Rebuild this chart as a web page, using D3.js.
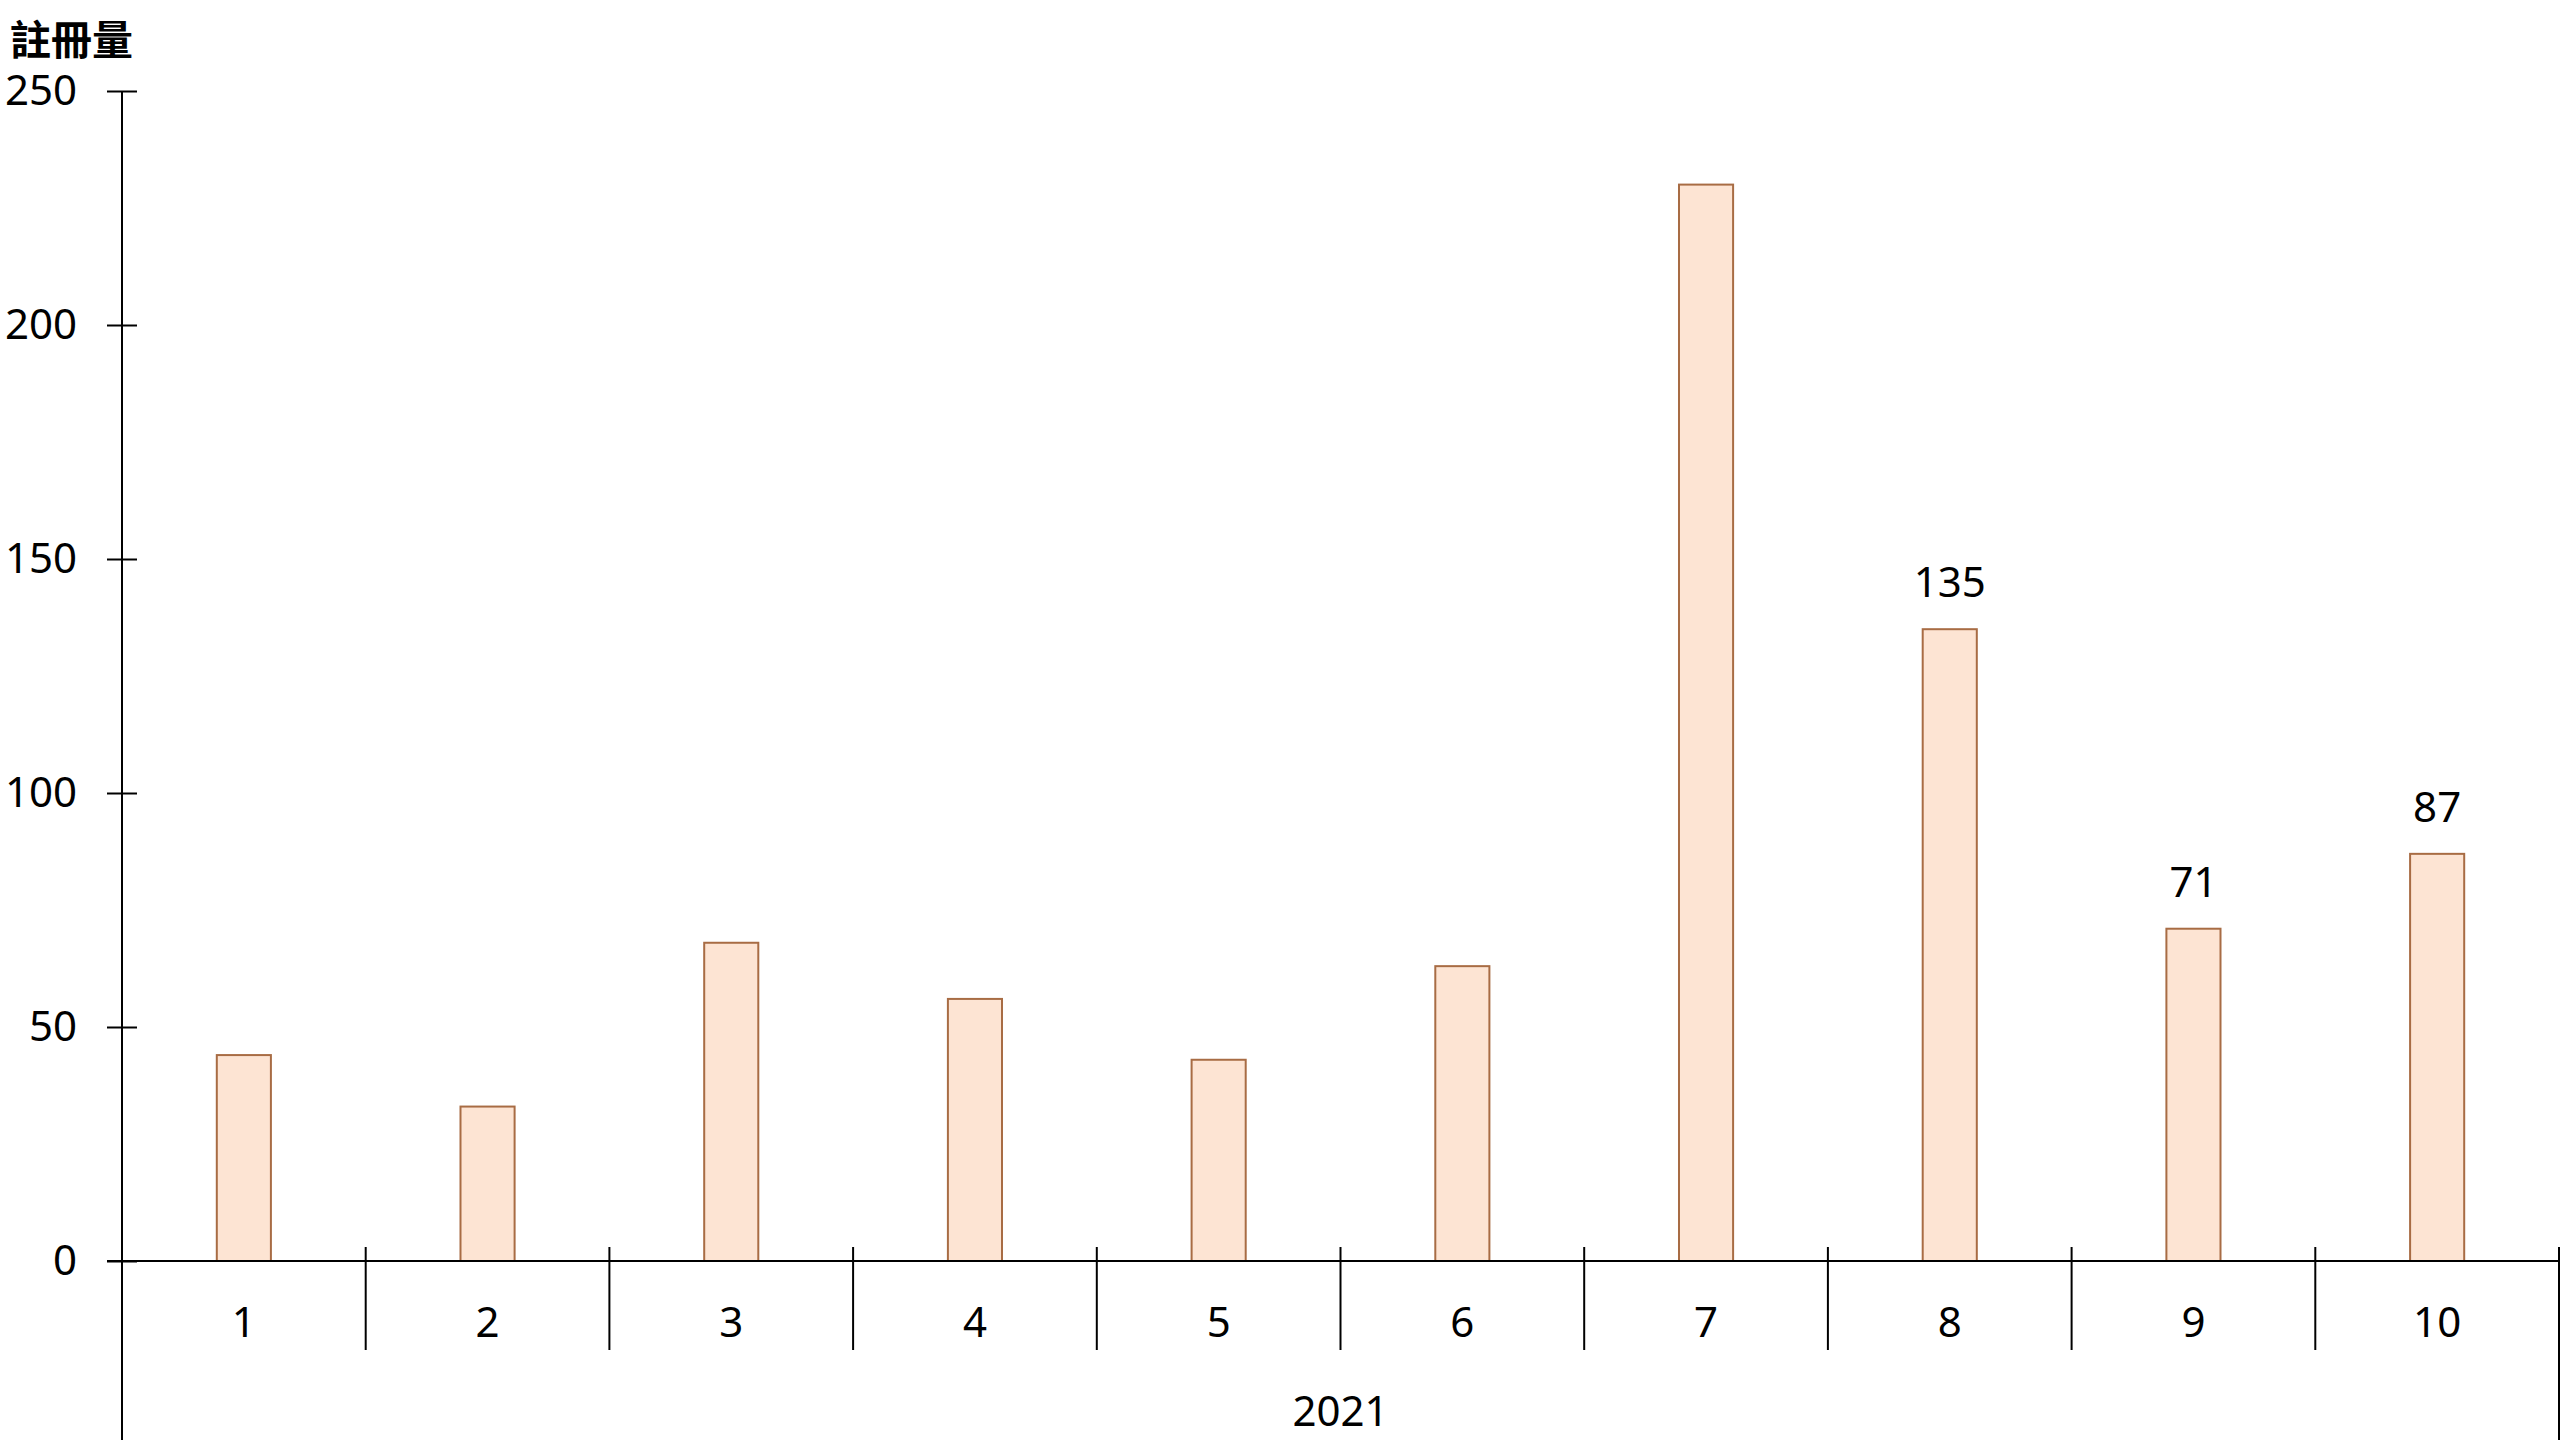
<!DOCTYPE html>
<html>
<head>
<meta charset="utf-8">
<script src="https://cdn.jsdelivr.net/npm/d3@7"></script>
<style>
	body { margin: 0; background: #fff; }
	svg { display: block; }
	text { font-family: 'Noto Sans', sans-serif; fill: #000; }
</style>
</head>
<body>
<svg width="2560" height="1440"></svg>
<script>
// data
const months = ['1', '2', '3', '4', '5', '6', '7', '8', '9', '10'];
const registrations = [44, 33, 68, 56, 43, 63, 230, 135, 71, 87];
const labelled = ['8', '9', '10']; // only these bars carry a value label
const yTicks = [0, 50, 100, 150, 200, 250];
const yearLabel = '2021';
const yTitle = '註冊量';

const svg = d3.select('svg');
const W = +svg.attr('width'), H = +svg.attr('height');

const plotLeft = 122, plotRight = 2559, plotTop = 91, plotBase = 1261;

const x = d3.scaleBand()
            .domain(months)
            .range([plotLeft, plotRight])
            .padding(0);
const y = d3.scaleLinear()
            .domain([0, 250])
            .range([plotBase, plotTop]);

const barW = x.bandwidth() * 0.222;
const rows = months.map((m, i) => ({m, v: registrations[i]}));

// bars
svg.append('g')
   .selectAll('rect')
   .data(rows)
   .join('rect')
   .attr('x', d => x(d.m) + x.bandwidth() / 2 - barW / 2)
   .attr('y', d => y(d.v))
   .attr('width', barW)
   .attr('height', d => y(0) - y(d.v))
   .attr('fill', '#fde4d3')
   .attr('stroke', '#a86c44')
   .attr('stroke-width', 2);

// value labels (8, 9, 10 only)
svg.append('g')
   .selectAll('text')
   .data(rows.filter(d => labelled.includes(d.m)))
   .join('text')
   .attr('x', d => x(d.m) + x.bandwidth() / 2)
   .attr('y', d => y(d.v) - 32)
   .attr('text-anchor', 'middle')
   .attr('font-size', 42)
   .text(d => d.v);

// y axis: ticks cross the line
const y_ax = d3.axisLeft(y).tickValues(yTicks).tickSize(15).tickPadding(30);
const h_y_ax = svg.append('g')
                  .attr('transform', `translate(${plotLeft},0)`)
                  .call(y_ax);
h_y_ax.select('.domain').remove();
h_y_ax.selectAll('.tick line').attr('x1', 15).attr('stroke', '#000').attr('stroke-width', 2);
h_y_ax.selectAll('.tick text').attr('font-size', 42).attr('font-family', "'Noto Sans', sans-serif").attr('fill', '#000');

svg.append('line')
   .attr('x1', plotLeft).attr('x2', plotLeft)
   .attr('y1', y(250)).attr('y2', H)
   .attr('stroke', '#000').attr('stroke-width', 2);

// x axis line
svg.append('line')
   .attr('x1', plotLeft - 15).attr('x2', plotRight)
   .attr('y1', y(0)).attr('y2', y(0))
   .attr('stroke', '#000').attr('stroke-width', 2);

// category separators between months
const bounds = months.slice(1).map(m => x(m));
svg.append('g')
   .selectAll('line')
   .data(bounds)
   .join('line')
   .attr('x1', d => d).attr('x2', d => d)
   .attr('y1', y(0) - 14).attr('y2', 1350)
   .attr('stroke', '#000').attr('stroke-width', 2);

// outer group boundary at the right end
svg.append('line')
   .attr('x1', plotRight).attr('x2', plotRight)
   .attr('y1', y(0) - 14).attr('y2', H)
   .attr('stroke', '#000').attr('stroke-width', 2);

// month labels
svg.append('g')
   .selectAll('text')
   .data(months)
   .join('text')
   .attr('x', d => x(d) + x.bandwidth() / 2)
   .attr('y', 1337)
   .attr('text-anchor', 'middle')
   .attr('font-size', 42)
   .text(d => d);

// year group label
svg.append('text')
   .attr('x', (plotLeft + plotRight) / 2)
   .attr('y', 1426)
   .attr('text-anchor', 'middle')
   .attr('font-size', 42)
   .text(yearLabel);

// axis title
svg.append('text')
   .attr('x', 10)
   .attr('y', 55)
   .attr('font-size', 41)
   .attr('font-weight', 'bold')
   .style('font-family', "'Noto Sans CJK TC', sans-serif")
   .text(yTitle);
</script>
</body>
</html>
